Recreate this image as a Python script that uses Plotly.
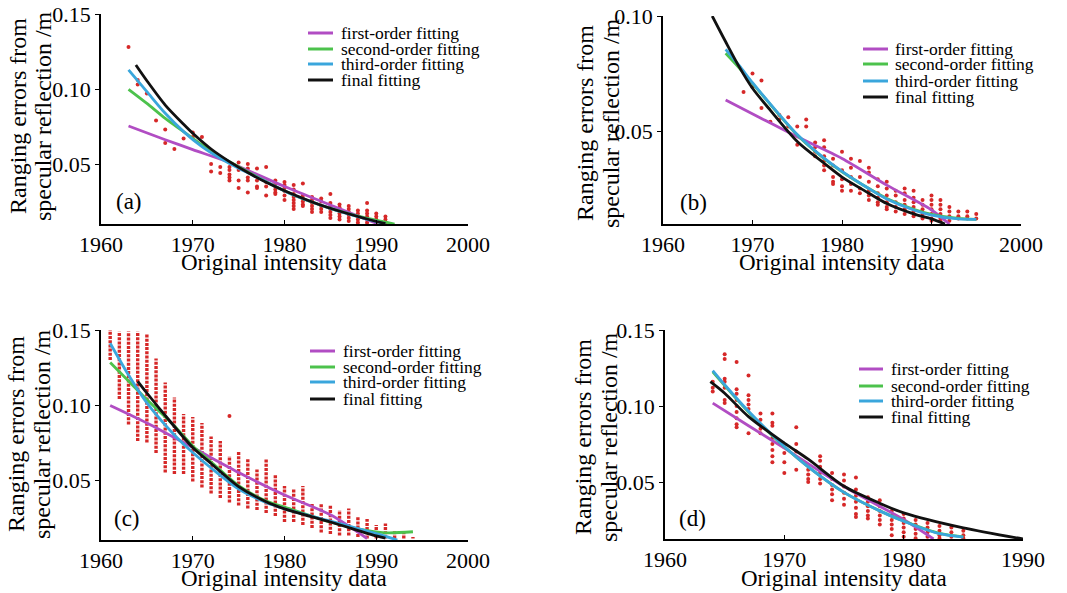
import plotly.graph_objects as go
from plotly.subplots import make_subplots

W, H = 1067, 593

# ---------------- panel (a) ----------------
a_points = {
    1963: [0.128], 1964: [0.106, 0.103], 1965: [0.097], 1966: [0.079],
    1967: [0.073, 0.064], 1968: [0.060], 1969: [0.067], 1970: [0.071, 0.068],
    1971: [0.068], 1972: [0.050, 0.045], 1973: [0.054, 0.048, 0.044],
    1974: [0.048, 0.046, 0.043, 0.041, 0.039], 1975: [0.051, 0.046, 0.039, 0.034],
    1976: [0.050, 0.047, 0.041, 0.039, 0.031], 1977: [0.047, 0.039, 0.035, 0.034],
    1978: [0.048, 0.038, 0.035, 0.029], 1979: [0.039, 0.037, 0.035, 0.033, 0.031, 0.030],
    1980: [0.038, 0.036, 0.034, 0.032, 0.029, 0.026],
    1981: [0.036, 0.033, 0.030, 0.028, 0.026, 0.024, 0.022, 0.020],
    1982: [0.037, 0.029, 0.027, 0.025, 0.023, 0.022],
    1983: [0.028, 0.026, 0.024, 0.022, 0.020, 0.018],
    1984: [0.027, 0.025, 0.022, 0.020, 0.018],
    1985: [0.030, 0.024, 0.022, 0.020, 0.018, 0.016, 0.014],
    1986: [0.023, 0.021, 0.019, 0.017, 0.015, 0.013],
    1987: [0.022, 0.020, 0.018, 0.016, 0.014, 0.012],
    1988: [0.019, 0.017, 0.015, 0.013, 0.011],
    1989: [0.024, 0.019, 0.017, 0.015, 0.013, 0.011],
    1990: [0.017, 0.015, 0.013, 0.011], 1991: [0.015, 0.013, 0.011],
}
a_first_x = [1963, 1967, 1970, 1974, 1980, 1985, 1990]
a_first_y = [0.0753, 0.0662, 0.0596, 0.0510, 0.0350, 0.0227, 0.0105]
a_second_x = [1963, 1965, 1967, 1969, 1971, 1973, 1975, 1978, 1981, 1985, 1988, 1992]
a_second_y = [0.0998, 0.0904, 0.0804, 0.0716, 0.0627, 0.0549, 0.0482, 0.0382, 0.0293, 0.0204, 0.0153, 0.0100]
a_third_x = [1963, 1965, 1967, 1969, 1971, 1973, 1975, 1978, 1981, 1985, 1988, 1991]
a_third_y = [0.1127, 0.0982, 0.0838, 0.0716, 0.0616, 0.0538, 0.0471, 0.0382, 0.0293, 0.0204, 0.0149, 0.0100]
a_final_x = [1963.8, 1965, 1967, 1969, 1970, 1972, 1974, 1976, 1978, 1980, 1984, 1988, 1991]
a_final_y = [0.1160, 0.1055, 0.0893, 0.0765, 0.0705, 0.0600, 0.0516, 0.0443, 0.0378, 0.0322, 0.0225, 0.0150, 0.0102]

# ---------------- panel (b) ----------------
b_points = {
    1969: [0.067], 1970: [0.075, 0.069], 1971: [0.072, 0.060], 1972: [0.054],
    1973: [0.057, 0.055], 1974: [0.056, 0.052], 1975: [0.052, 0.044],
    1976: [0.055, 0.052, 0.045], 1977: [0.045, 0.043, 0.041, 0.039],
    1978: [0.046, 0.043, 0.039, 0.037, 0.035, 0.033],
    1979: [0.038, 0.035, 0.030, 0.028, 0.027],
    1980: [0.041, 0.033, 0.029, 0.026, 0.024],
    1981: [0.038, 0.034, 0.030, 0.027, 0.024],
    1982: [0.037, 0.030, 0.025, 0.023],
    1983: [0.034, 0.032, 0.028, 0.024, 0.022, 0.020],
    1984: [0.029, 0.026, 0.023, 0.021, 0.019, 0.018],
    1985: [0.028, 0.025, 0.022, 0.019, 0.017, 0.016],
    1986: [0.024, 0.022, 0.019, 0.017, 0.015],
    1987: [0.025, 0.023, 0.020, 0.018, 0.016, 0.014],
    1988: [0.024, 0.021, 0.019, 0.017, 0.015, 0.013],
    1989: [0.020, 0.018, 0.016, 0.014, 0.012],
    1990: [0.022, 0.020, 0.018, 0.016, 0.014, 0.012, 0.011],
    1991: [0.020, 0.018, 0.016, 0.014, 0.012, 0.011],
    1992: [0.017, 0.015, 0.013, 0.011], 1993: [0.015, 0.013, 0.012],
    1994: [0.015, 0.013, 0.012], 1995: [0.014, 0.012],
}
b_first_x = [1967, 1971, 1975, 1980, 1985, 1990, 1992]
b_first_y = [0.0635, 0.0555, 0.0475, 0.0381, 0.0265, 0.0157, 0.0096]
b_second_x = [1967, 1968.5, 1970, 1972, 1975, 1978, 1980, 1983, 1985, 1988, 1990, 1993, 1995]
b_second_y = [0.0838, 0.0775, 0.0707, 0.0615, 0.0483, 0.0380, 0.0323, 0.0250, 0.0207, 0.0160, 0.0138, 0.0120, 0.0116]
b_third_x = [1967, 1968.5, 1970, 1972, 1975, 1978, 1980, 1983, 1985, 1988, 1990, 1993, 1995]
b_third_y = [0.0855, 0.0785, 0.0710, 0.0617, 0.0485, 0.0382, 0.0325, 0.0250, 0.0205, 0.0157, 0.0135, 0.0118, 0.0116]
b_final_x = [1965.5, 1967, 1968.5, 1970, 1972, 1975, 1978, 1980, 1983, 1985, 1988, 1990, 1991.5]
b_final_y = [0.1000, 0.0888, 0.0780, 0.0686, 0.0590, 0.0455, 0.0360, 0.0300, 0.0230, 0.0185, 0.0140, 0.0118, 0.0096]

# ---------------- panel (c) ----------------
c_years = list(range(1961, 1995))
c_low = [0.130, 0.104, 0.087, 0.076, 0.075, 0.068, 0.055, 0.054, 0.054, 0.049,
         0.045, 0.041, 0.038, 0.035, 0.033, 0.031, 0.030, 0.028, 0.026, 0.022,
         0.022, 0.020, 0.018, 0.015, 0.014, 0.013, 0.013, 0.012, 0.011, 0.011,
         0.011, 0.011, 0.011, 0.011]
c_high = [0.150, 0.149, 0.149, 0.149, 0.147, 0.131, 0.115, 0.105, 0.094, 0.092,
          0.088, 0.079, 0.076, 0.066, 0.069, 0.064, 0.057, 0.064, 0.054, 0.046,
          0.044, 0.046, 0.034, 0.034, 0.033, 0.030, 0.031, 0.026, 0.024, 0.020,
          0.021, 0.016, 0.016, 0.012]
c_extra_x = [1974]
c_extra_y = [0.0926]
c_first_x = [1961, 1965, 1970, 1975, 1980, 1985, 1989]
c_first_y = [0.0997, 0.0880, 0.0716, 0.0550, 0.0400, 0.0268, 0.0110]
c_second_x = [1961, 1963, 1965, 1968, 1970, 1972, 1975, 1978, 1980, 1985, 1988, 1991, 1994]
c_second_y = [0.1284, 0.1160, 0.1036, 0.0860, 0.0727, 0.0620, 0.0462, 0.0360, 0.0319, 0.0220, 0.0175, 0.0148, 0.0155]
c_third_x = [1961, 1963, 1965, 1968, 1970, 1972, 1975, 1978, 1980, 1985, 1990, 1992.3]
c_third_y = [0.1412, 0.1200, 0.1014, 0.0800, 0.0683, 0.0580, 0.0440, 0.0350, 0.0308, 0.0226, 0.0142, 0.0100]
c_final_x = [1964, 1965, 1967, 1970, 1972, 1975, 1978, 1980, 1985, 1990, 1991]
c_final_y = [0.1158, 0.1080, 0.0930, 0.0716, 0.0610, 0.0456, 0.0355, 0.0308, 0.0220, 0.0127, 0.0112]

# ---------------- panel (d) ----------------
d_points = {
    1964: [0.116, 0.112, 0.1095],
    1965: [0.134, 0.131, 0.118, 0.116, 0.112, 0.104, 0.102],
    1966: [0.129, 0.111, 0.108, 0.104, 0.100, 0.096, 0.092, 0.088, 0.086],
    1967: [0.120, 0.107, 0.104, 0.101, 0.098, 0.082],
    1968: [0.095, 0.091, 0.085, 0.082],
    1969: [0.095, 0.089, 0.087, 0.079, 0.075, 0.071, 0.067, 0.063],
    1970: [0.073, 0.069, 0.063, 0.056], 1971: [0.086, 0.075, 0.070, 0.058],
    1972: [0.058, 0.055, 0.052, 0.050],
    1973: [0.067, 0.064, 0.060, 0.056, 0.052, 0.049],
    1974: [0.056, 0.052, 0.048, 0.045, 0.042, 0.038],
    1975: [0.055, 0.051, 0.047, 0.043, 0.039, 0.035],
    1976: [0.053, 0.045, 0.041, 0.037, 0.033, 0.029, 0.027],
    1977: [0.040, 0.037, 0.034, 0.031, 0.028, 0.026],
    1978: [0.038, 0.034, 0.031, 0.028, 0.025, 0.022],
    1979: [0.031, 0.028, 0.025, 0.022, 0.019, 0.015],
    1980: [0.029, 0.026, 0.023, 0.020, 0.017, 0.014],
    1981: [0.025, 0.022, 0.019, 0.016, 0.013], 1982: [0.023, 0.020, 0.017, 0.014],
    1983: [0.021, 0.018, 0.015, 0.013], 1984: [0.020, 0.017, 0.014],
    1985: [0.018, 0.015, 0.013],
}
d_first_x = [1964, 1967, 1970, 1975, 1980, 1982.5]
d_first_y = [0.1019, 0.0870, 0.0723, 0.0470, 0.0253, 0.0125]
d_second_x = [1964, 1965, 1967, 1970, 1972, 1975, 1978, 1980, 1983, 1985]
d_second_y = [0.1225, 0.1135, 0.0960, 0.0732, 0.0600, 0.0432, 0.0310, 0.0243, 0.0162, 0.0139]
d_third_x = [1964, 1965, 1967, 1970, 1972, 1975, 1978, 1980, 1983, 1985]
d_third_y = [0.1233, 0.1140, 0.0965, 0.0734, 0.0600, 0.0432, 0.0310, 0.0242, 0.0160, 0.0138]
d_final_x = [1963.8, 1965, 1967, 1970, 1972, 1975, 1978, 1980, 1985, 1990]
d_final_y = [0.1160, 0.1084, 0.0930, 0.0756, 0.0650, 0.0472, 0.0360, 0.0297, 0.0198, 0.0125]

legend_names = ["first-order fitting", "second-order fitting", "third-order fitting", "final fitting"]
FONT = "Liberation Serif"
RED = "#d62828"
COLORS = ["#b14dc3", "#4cc24c", "#3aa6dc", "#111111"]


def px(x):
    return x / W


def py(y):
    return 1 - y / H


def flatten(points):
    xs, ys = [], []
    for yr, vals in points.items():
        for v in vals:
            xs.append(yr)
            ys.append(v)
    return xs, ys


fig = make_subplots(rows=2, cols=2)

panels = [
    (1, 1, a_points, [(a_first_x, a_first_y), (a_second_x, a_second_y), (a_third_x, a_third_y), (a_final_x, a_final_y)]),
    (1, 2, b_points, [(b_first_x, b_first_y), (b_second_x, b_second_y), (b_third_x, b_third_y), (b_final_x, b_final_y)]),
    (2, 1, None, [(c_first_x, c_first_y), (c_second_x, c_second_y), (c_third_x, c_third_y), (c_final_x, c_final_y)]),
    (2, 2, d_points, [(d_first_x, d_first_y), (d_second_x, d_second_y), (d_third_x, d_third_y), (d_final_x, d_final_y)]),
]

for r, c, pts, fits in panels:
    if pts is not None:
        xs, ys = flatten(pts)
        fig.add_trace(go.Scatter(x=xs, y=ys, mode="markers", showlegend=False,
                                 marker=dict(color=RED, size=4)), row=r, col=c)
    else:
        # dense columns of points drawn as dotted vertical runs
        sx, sy = [], []
        for yr, lo, hi in zip(c_years, c_low, c_high):
            sx += [yr, yr, None]
            sy += [lo, hi, None]
        fig.add_trace(go.Scatter(x=sx, y=sy, mode="lines", showlegend=False,
                                 line=dict(color=RED, width=3.4, dash="3px,1.2px")), row=r, col=c)
        fig.add_trace(go.Scatter(x=c_extra_x, y=c_extra_y, mode="markers", showlegend=False,
                                 marker=dict(color=RED, size=4)), row=r, col=c)
    for (fx, fy), col_, name in zip(fits, COLORS, legend_names):
        fig.add_trace(go.Scatter(x=fx, y=fy, mode="lines", name=name, showlegend=False,
                                 line=dict(color=col_, width=2.8, shape="spline", smoothing=0.8)),
                      row=r, col=c)

# axis geometry in pixels: (left, right, top, bottom)
boxes = {
    1: (101, 468, 14, 224),
    2: (663, 1021, 16, 224),
    3: (101, 468, 330, 540),
    4: (665, 1023, 330, 539),
}
xranges = {1: [1960, 2000], 2: [1960, 2000], 3: [1960, 2000], 4: [1960, 1990]}
yranges = {1: [0.01, 0.15], 2: [0.0096, 0.10], 3: [0.01, 0.15], 4: [0.0125, 0.15]}
yticks = {1: [0.05, 0.10, 0.15], 2: [0.05, 0.10], 3: [0.05, 0.10, 0.15], 4: [0.05, 0.10, 0.15]}

for i in range(1, 5):
    l, rr, t, b = boxes[i]
    sfx = "" if i == 1 else str(i)
    xt = list(range(xranges[i][0], xranges[i][1] + 1, 10))
    fig.layout["xaxis" + sfx].update(
        domain=[px(l), px(rr)], range=xranges[i], tickvals=xt, automargin=False,
        ticks="inside", ticklen=4, tickwidth=1.2, tickcolor="black",
        showline=True, linecolor="black", linewidth=1.5, showgrid=False, zeroline=False,
        tickfont=dict(family=FONT, size=22, color="black"))
    fig.layout["yaxis" + sfx].update(
        domain=[py(b), py(t)], range=yranges[i], tickvals=yticks[i], automargin=False,
        ticktext=["%.2f" % v for v in yticks[i]],
        ticks="outside", ticklen=4, tickwidth=1.2, tickcolor="black",
        showline=True, linecolor="black", linewidth=1.5, showgrid=False, zeroline=False,
        tickfont=dict(family=FONT, size=22, color="black"))

annotations = []
shapes = []


def txt(x, y, s, size=21, xanchor="center", **kw):
    d = dict(x=px(x), y=py(y), xref="paper", yref="paper", text=s, showarrow=False,
             xanchor=xanchor, yanchor="middle",
             font=dict(family=FONT, size=size, color="black"))
    d.update(kw)
    annotations.append(d)


# x titles, y titles, panel labels
for (cx, ty) in [(284, 262), (842, 262), (284, 578), (844, 578)]:
    txt(cx, ty, "Original intensity data", size=23)
for (x1, x2, cy) in [(18, 43, 116), (585, 611, 123), (16, 42, 434), (583, 609, 437)]:
    txt(x1, cy, "Ranging errors from", size=24, textangle=-90)
    txt(x2, cy, "specular reflection /m", size=24, textangle=-90)
for (lx, ly, s) in [(129, 201, "(a)"), (693, 202, "(b)"), (127, 518, "(c)"), (692, 518, "(d)")]:
    txt(lx, ly, s, size=23)

# legends drawn per panel
leg_pos = [
    (308, 333, 339, [33, 49, 64, 80]),
    (863, 888, 893, [49, 64, 81, 97]),
    (310, 335, 341, [351, 367, 382, 399]),
    (859, 883, 889, [369, 386, 401, 417]),
]
for x0, x1, tx, rows in leg_pos:
    for yy, col_, name in zip(rows, COLORS, legend_names):
        shapes.append(dict(type="line", xref="paper", yref="paper", x0=px(x0), x1=px(x1),
                           y0=py(yy), y1=py(yy), line=dict(color=col_, width=3)))
        txt(tx, yy, name, size=17.5, xanchor="left")

fig.update_layout(width=W, height=H, margin=dict(l=0, r=0, t=0, b=0, autoexpand=False),
                  paper_bgcolor="white", plot_bgcolor="white",
                  annotations=annotations, shapes=shapes, showlegend=False)

# the page body has a default 8px margin; drop it so the figure fills the window
fig.write_html("out.html", config={"displayModeBar": False},
               post_script="document.body.style.margin='0';")
